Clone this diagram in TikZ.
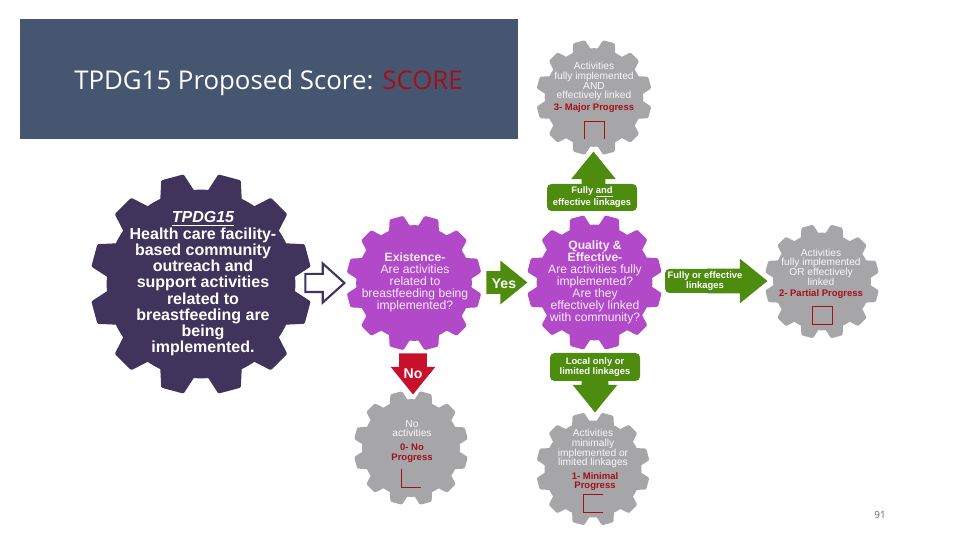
\documentclass[tikz,border=0pt]{standalone}
\usepackage{fontspec}
\setmainfont{Liberation Sans}
\newfontfamily\titlefont{Open Sans}
\usetikzlibrary{shapes.arrows}
\definecolor{slatehead}{HTML}{465670}
\definecolor{gearpurple}{HTML}{B249C9}
\definecolor{geardark}{HTML}{40345C}
\definecolor{geargrey}{HTML}{A6A6A8}
\definecolor{arrowgreen}{HTML}{4D8C0E}
\definecolor{arrowred}{HTML}{C80F2B}
\definecolor{scorered}{HTML}{A50F1A}
\def\pxu{0.02cm}
\newcommand{\gear}[4]{% x, y, outer radius, colour
  \fill[#4] (#1,#2) circle[radius=0.85*#3];
  \foreach \a in {15,45,...,345}
    \fill[#4,rounded corners=0.7pt]
      ({#1+0.8*#3*cos(\a-12.5)},{#2+0.8*#3*sin(\a-12.5)}) --
      ({#1+#3*cos(\a-6)},{#2+#3*sin(\a-6)}) --
      ({#1+#3*cos(\a+6)},{#2+#3*sin(\a+6)}) --
      ({#1+0.8*#3*cos(\a+12.5)},{#2+0.8*#3*sin(\a+12.5)}) -- cycle;
}
\begin{document}
\begin{tikzpicture}[x=\pxu,y=-\pxu,
  big/.style={align=center,text=white,font=\bfseries\fontsize{9.1pt}{9.25pt}\selectfont,inner sep=0pt},
  ask/.style={align=center,text=white!90!gearpurple,font=\fontsize{6.9pt}{6.85pt}\selectfont,inner sep=0pt},
  result/.style={align=center,text=white!92!geargrey,font=\fontsize{5.8pt}{5.55pt}\selectfont,inner sep=0pt},
  score/.style={align=center,text=scorered,font=\bfseries\fontsize{5.4pt}{5.6pt}\selectfont,inner sep=0pt},
  tag/.style={rectangle,fill=arrowgreen,rounded corners=2.5pt,align=center,text=white,font=\bfseries\fontsize{5.35pt}{5.6pt}\selectfont,inner sep=0pt},
  block/.style={single arrow,single arrow tip angle=78,anchor=tip},
  word/.style={text=white,font=\bfseries\fontsize{8pt}{8pt}\selectfont,inner sep=0pt},
  tick/.style={draw=scorered,line width=0.45pt}
]
  \useasboundingbox (0,0) rectangle (960,540);
  \fill[slatehead] (20,19) rectangle (518,139);
  \node[inner sep=0pt,text=white,font=\titlefont\fontsize{14.7pt}{16pt}\selectfont] (title) at (268.5,82.5)
    {TPDG15 Proposed Score: \textcolor{scorered}{SCORE}};

  \gear{201}{284}{111}{geardark}
  \gear{414}{283}{68}{gearpurple}
  \gear{594.5}{282.5}{68}{gearpurple}
  \gear{594}{97.5}{58}{geargrey}
  \gear{822}{281.5}{57.5}{geargrey}
  \gear{411}{448}{57.5}{geargrey}
  \gear{593}{469}{57}{geargrey}

  \node[big] (goal) at (203,284) {\textit{\underline{TPDG15}}\\Health care facility-\\based community\\outreach and\\support activities\\related to\\breastfeeding are\\being\\implemented.};
  \node[ask] (exist) at (415,282.5) {{\bfseries Existence-}\\Are activities\\related to\\breastfeeding being\\implemented?};
  \node[ask] (quality) at (595,282) {{\bfseries Quality \&}\\{\bfseries Effective-}\\Are activities fully\\implemented?\\Are they\\effectively linked\\with community?};

  \node[result] (major) at (594,81.5) {Activities\\fully implemented\\AND\\effectively linked};
  \node[score] (majorscore) at (594,108) {3- Major Progress};
  \node[result] (partial) at (821,267) {Activities\\fully implemented\\OR effectively\\linked};
  \node[score] (partialscore) at (821,294) {2- Partial Progress};
  \node[result] (none) at (412,428.5) {No\\activities};
  \node[score] (nonescore) at (412,453) {0- No\\Progress};
  \node[result] (minimal) at (593,448.7) {Activities\\minimally\\implemented or\\limited linkages};
  \node[score] (minimalscore) at (595,481.5) {1- Minimal\\Progress};

  % score boxes
  \draw[tick] (584,139) -- (584,121) -- (604,121) -- (604,139);
  \draw[tick] (812,306) rectangle (832,324);
  \draw[tick] (421,487) -- (401,487) -- (401,469);
  \draw[tick] (603,494) -- (583,494) -- (583,512) -- (603,512);

  % block arrows
  \node[block,draw=geardark,line width=1.2pt,fill=white,inner sep=8*\pxu,minimum height=39*\pxu,minimum width=37*\pxu,single arrow head extend=10.5*\pxu,single arrow tip angle=84] (into) at (346,283) {};
  \node[block,fill=arrowgreen,inner sep=11*\pxu,minimum height=41*\pxu,minimum width=43*\pxu,single arrow head extend=10.5*\pxu] (yes) at (528,282.5) {};
  \node[word] (yesword) at (504,283.5) {Yes};
  \node[block,fill=arrowred,shape border rotate=270,inner xsep=13.5*\pxu,inner ysep=2*\pxu,minimum height=41*\pxu,minimum width=44*\pxu,single arrow head extend=8.5*\pxu] (no) at (413,395) {};
  \node[word] (noword) at (413,373.5) {No};
  \node[block,fill=arrowgreen,shape border rotate=90,inner sep=11.5*\pxu,minimum height=40*\pxu,minimum width=44*\pxu,single arrow head extend=10.5*\pxu] (up) at (593.5,151) {};
  \node[tag,minimum width=90*\pxu,minimum height=27*\pxu] (uptag) at (592,197.5) {Fully \underline{and}\\effective linkages};
  \node[block,fill=arrowgreen,shape border rotate=270,inner sep=13*\pxu,minimum height=40*\pxu,minimum width=44*\pxu,single arrow head extend=9*\pxu] (down) at (595,413) {};
  \node[tag,minimum width=90*\pxu,minimum height=28*\pxu] (downtag) at (595,367) {Local only or\\limited linkages};
  \node[block,fill=arrowgreen,inner sep=12*\pxu,minimum height=60*\pxu,minimum width=44*\pxu,single arrow head extend=10*\pxu] (side) at (768,281) {};
  \node[tag,minimum width=50*\pxu,minimum height=24*\pxu] (sidebox) at (690,281) {};
  \node[tag,fill=none] (sidetag) at (705,281.5) {Fully or effective\\linkages};

  \node[text=gray!80!black,inner sep=0pt,font=\titlefont\fontsize{5.6pt}{7pt}\selectfont] (page) at (880,514.5) {91};
\end{tikzpicture}
\end{document}
